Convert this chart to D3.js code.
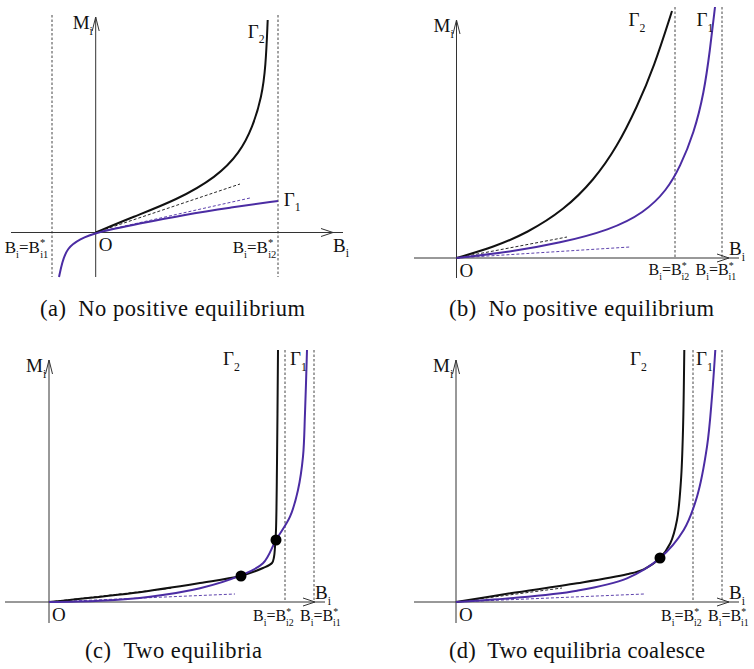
<!DOCTYPE html>
<html lang="en">
<head>
    <meta charset="UTF-8">
    <title>Equilibria of Gamma curves</title>
    <script src="https://d3js.org/d3.v7.min.js"></script>
    <style>
        body { margin: 0; background-color: white; }
    </style>
</head>
<body>
    <svg id="chart"></svg>

    <script>
        const width = 754;
        const height = 669;
        const serif = "'Liberation Serif', 'Times New Roman', 'DejaVu Serif', serif";

        const black = "#111";
        const purple = "#4b2ca3";

        // Curve data, in model units (B along x, M along y), one set per panel
        const gamma2A = [[0,0],[0.37,0.155],[0.81,0.325],[1.21,0.555],[1.44,0.795],[1.57,1.055],[1.66,1.355],[1.70,1.655],[1.72,2.125]];
        const gamma1A = [[-0.367,-0.445],[-0.337,-0.305],[-0.287,-0.155],[-0.157,-0.065],[0,0],[0.443,0.09],[0.873,0.175],[1.343,0.25],[1.823,0.315]];
        const tangent2A = [[0,0],[1.443,0.485]];
        const tangent1A = [[0,0],[1.543,0.345]];

        const gamma2B = [[0,0],[0.375,0.11],[0.705,0.25],[1.075,0.48],[1.375,0.78],[1.605,1.11],[1.805,1.51],[1.975,1.91],[2.155,2.47]];
        const gamma1B = [[0,0],[0.535,0.06],[1.035,0.15],[1.535,0.28],[1.875,0.45],[2.105,0.68],[2.235,0.91],[2.375,1.25],[2.475,1.65],[2.535,2.08],[2.585,2.51]];
        const tangent2B = [[0,0],[1.105,0.21]];
        const tangent1B = [[0,0],[1.735,0.11]];

        const gamma2C = [[0,0],[0.84,0.09],[1.51,0.19],[1.91,0.26],[2.14,0.34],[2.23,0.39],[2.25,0.45],[2.26,0.55],[2.27,0.72],[2.28,1.39],[2.29,2.52]];
        const gamma1C = [[0,0],[0.51,0.013],[1.01,0.053],[1.51,0.137],[1.91,0.263],[2.14,0.387],[2.27,0.62],[2.41,0.853],[2.49,1.12],[2.54,1.453],[2.56,1.89],[2.58,2.52]];
        const tangent2C = [[0,0],[1.24,0.14]];
        const tangent1C = [[0,0],[1.86,0.08]];
        const equilibriaC = [[1.92,0.26],[2.27,0.62]];

        const gamma2D = [[0,0],[0.543,0.087],[1.21,0.187],[1.71,0.277],[1.877,0.327],[2.037,0.437],[2.143,0.587],[2.21,0.82],[2.25,1.22],[2.27,1.72],[2.283,2.52]];
        const gamma1D = [[0,0],[0.543,0.037],[1.21,0.113],[1.71,0.237],[2.037,0.437],[2.277,0.72],[2.41,1.053],[2.51,1.553],[2.56,2.053],[2.593,2.52]];
        const tangent2D = [[0,0],[1.06,0.14]];
        const tangent1D = [[0,0],[1.88,0.08]];
        const equilibriaD = [[2.04,0.44]];

        // Asymptotes B*_i1 and B*_i2
        const asymA = [-0.437, 1.823];
        const asymB = [2.185, 2.655];
        const asymC = [2.36, 2.65];
        const asymD = [2.37, 2.66];

        const captions = ["(a)", "(b)", "(c)", "(d)"];
        const captionTexts = ["No positive equilibrium", "No positive equilibrium", "Two equilibria", "Two equilibria coalesce"];

        const panels = [
            { ox: 95.7, oy: 232.5, xAxis: [-0.847, 2.473], yAxis: [-0.445, 2.155], asymTop: 2.175, asymBottom: -0.445,
              g2: gamma2A, g1: gamma1A, t2: tangent2A, t1: tangent1A, asym: asymA, dots: [],
              g2Label: [1.52, 1.95], g1Label: [1.88, 0.27], capX: 40, capY: 316, capW: 265,
              starLabels: [[-0.91, -0.2], [1.37, -0.2]] },
            { ox: 456.5, oy: 258, xAxis: [-0.425, 2.825], yAxis: [-0.2, 2.38], asymTop: 2.51, asymBottom: 0,
              g2: gamma2B, g1: gamma1B, t2: tangent2B, t1: tangent1B, asym: asymB, dots: [],
              g2Label: [1.72, 2.32], g1Label: [2.4, 2.32], capX: 449, capY: 316, capW: 265,
              starLabels: [[1.92, -0.17], [2.39, -0.17]] },
            { ox: 49, oy: 602, xAxis: [-0.44, 2.76], yAxis: [-0.21, 2.42], asymTop: 2.52, asymBottom: 0,
              g2: gamma2C, g1: gamma1C, t2: tangent2C, t1: tangent1C, asym: asymC, dots: equilibriaC,
              g2Label: [1.74, 2.37], g1Label: [2.41, 2.37], capX: 85, capY: 658, capW: 177,
              starLabels: [[2.04, -0.19], [2.51, -0.19]] },
            { ox: 456, oy: 602, xAxis: [-0.42, 2.83], yAxis: [-0.21, 2.42], asymTop: 2.52, asymBottom: 0,
              g2: gamma2D, g1: gamma1D, t2: tangent2D, t1: tangent1D, asym: asymD, dots: equilibriaD,
              g2Label: [1.74, 2.37], g1Label: [2.4, 2.37], capX: 449, capY: 658, capW: 256,
              starLabels: [[2.05, -0.19], [2.52, -0.19]] }
        ];

        const svg = d3.select("#chart")
            .attr("width", width)
            .attr("height", height);

        // write a label made of pieces: plain, sub, sup
        function richText(g, x, y, parts, size) {
            const t = g.append("text")
                .attr("x", x).attr("y", y)
                .attr("font-family", serif)
                .attr("font-size", size)
                .attr("fill", "#111");
            let shift = 0;
            parts.forEach(p => {
                const sp = t.append("tspan").text(p.t);
                let target = 0;
                let fs = size;
                if (p.sub) { target = size * 0.3; fs = size * 0.62; }
                if (p.sup) { target = -size * 0.36; fs = size * 0.62; }
                sp.attr("dy", target - shift).attr("font-size", fs);
                if (p.dx) sp.attr("dx", p.dx);
                shift = target;
            });
            return t;
        }

        const smooth = d3.line().curve(d3.curveBasis);
        const sharp = d3.line().curve(d3.curveCatmullRom.alpha(0.5));

        panels.forEach((p, i) => {
            const x = d3.scaleLinear().domain([0, 1]).range([p.ox, p.ox + 100]);
            const y = d3.scaleLinear().domain([0, 1]).range([p.oy, p.oy - 100]);
            smooth.x(d => x(d[0])).y(d => y(d[1]));
            sharp.x(d => x(d[0])).y(d => y(d[1]));
            const curve = i < 2 ? smooth : sharp;
            const g = svg.append("g");

            // asymptotes
            g.selectAll(".asym")
                .data(p.asym)
                .enter()
                .append("line")
                .attr("x1", d => x(d)).attr("x2", d => x(d))
                .attr("y1", y(p.asymTop)).attr("y2", y(p.asymBottom))
                .attr("stroke", "#444")
                .attr("stroke-width", 1)
                .attr("stroke-dasharray", "2.5,2");

            // axes
            const axisColor = "#333";
            g.append("line")
                .attr("x1", x(p.xAxis[0])).attr("x2", x(p.xAxis[1]))
                .attr("y1", y(0)).attr("y2", y(0))
                .attr("stroke", axisColor).attr("stroke-width", 1);
            g.append("line")
                .attr("x1", x(0)).attr("x2", x(0))
                .attr("y1", y(p.yAxis[0])).attr("y2", y(p.yAxis[1]))
                .attr("stroke", axisColor).attr("stroke-width", 1);
            const xe = x(p.xAxis[1]) - 10, ye = y(p.yAxis[1]);
            g.append("path")
                .attr("d", `M${xe - 12},${y(0) - 4} L${xe},${y(0)} L${xe - 12},${y(0) + 4}`)
                .attr("fill", "none").attr("stroke", axisColor).attr("stroke-width", 1);
            g.append("path")
                .attr("d", `M${x(0) - 3.5},${ye + 14} L${x(0)},${ye} L${x(0) + 3.5},${ye + 14}`)
                .attr("fill", "none").attr("stroke", axisColor).attr("stroke-width", 1);

            // tangent lines at the origin
            g.append("path").attr("d", sharp(p.t2))
                .attr("fill", "none").attr("stroke", black).attr("stroke-width", 0.9).attr("stroke-dasharray", "3,2");
            g.append("path").attr("d", sharp(p.t1))
                .attr("fill", "none").attr("stroke", purple).attr("stroke-width", 0.9).attr("stroke-dasharray", "3,2");

            // Gamma curves
            g.append("path").attr("d", curve(p.g2))
                .attr("fill", "none").attr("stroke", black).attr("stroke-width", 2);
            g.append("path").attr("d", curve(p.g1))
                .attr("fill", "none").attr("stroke", purple).attr("stroke-width", 2);

            // equilibrium points
            g.selectAll(".dot")
                .data(p.dots)
                .enter()
                .append("circle")
                .attr("cx", d => x(d[0])).attr("cy", d => y(d[1]))
                .attr("r", 5.5)
                .attr("fill", "black");

            // labels
            richText(g, x(0) - 23, y(p.yAxis[1]) + 12, [{ t: "M" }, { t: "i", sub: true }], 19);
            richText(g, x(p.xAxis[1]) - 10, y(0) + (i === 0 ? 19 : -3), [{ t: "B" }, { t: "i", sub: true }], 19);
            richText(g, x(0) + 3, y(0) + (i === 0 ? 18 : 19), [{ t: "O" }], 19);
            richText(g, x(p.g2Label[0]), y(p.g2Label[1]), [{ t: "Γ" }, { t: "2", sub: true }], 19);
            richText(g, x(p.g1Label[0]), y(p.g1Label[1]), [{ t: "Γ" }, { t: "1", sub: true }], 19);

            const small = i === 0 ? 17 : 16;
            p.starLabels.forEach((s, k) => {
                richText(g, x(s[0]), y(s[1]), [
                    { t: "B" }, { t: "i", sub: true }, { t: "=B" },
                    { t: "*", sup: true }, { t: k === 0 ? (i === 0 ? "i1" : "i2") : (i === 0 ? "i2" : "i1"), sub: true, dx: -5 }
                ], small);
            });

            g.append("text")
                .attr("x", p.capX).attr("y", p.capY)
                .attr("font-family", serif)
                .attr("font-size", 22.5)
                .attr("fill", "#111")
                .attr("textLength", p.capW)
                .attr("lengthAdjust", "spacing")
                .text(captions[i] + "\u2002" + captionTexts[i]);
        });
    </script>
</body>
</html>
